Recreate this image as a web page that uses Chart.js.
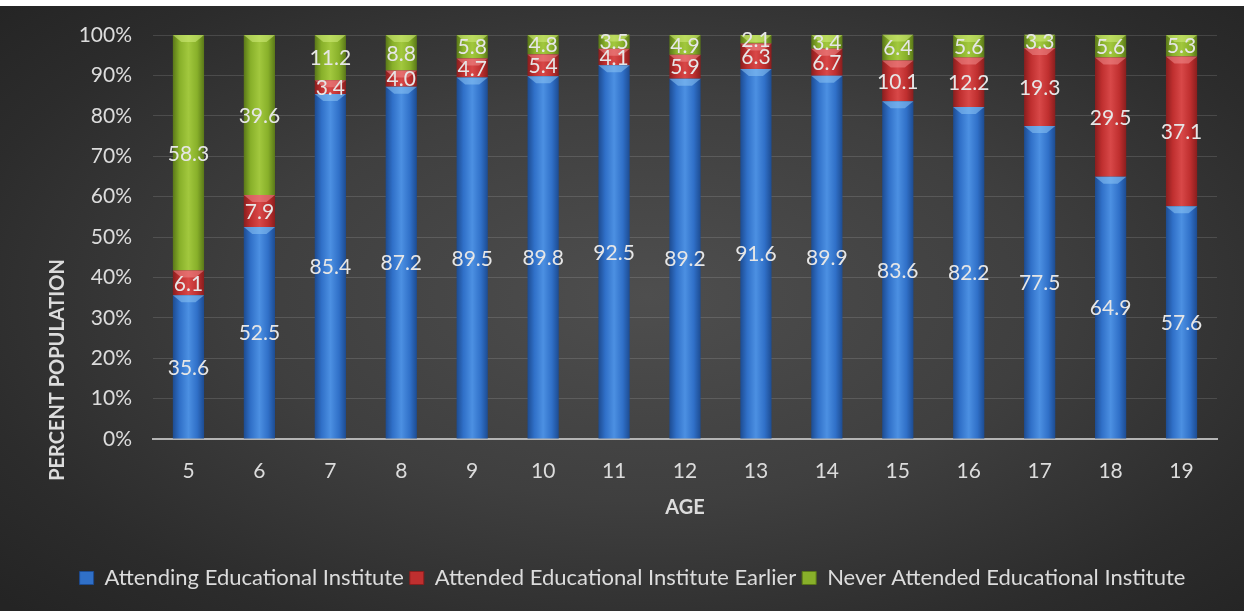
<!DOCTYPE html>
<html>
<head>
<meta charset="utf-8">
<title>Percent population by age</title>
<script src="https://cdn.jsdelivr.net/npm/chart.js@4.4.1/dist/chart.umd.min.js"></script>
<style>
  html, body { margin: 0; padding: 0; background: #fff; }
  #wrap {
    position: absolute; left: 0; top: 6px; width: 1244px; height: 605px;
    background: radial-gradient(ellipse 70% 75% at 52% 48%, #4e4e4e 0%, #3f3f3f 45%, #2c2c2c 80%, #242424 100%);
  }
</style>
</head>
<body>
<div id="wrap"><canvas id="chart" width="1244" height="605"></canvas></div>
<script>
// ages on the x axis
const AGES = ['5', '6', '7', '8', '9', '10', '11', '12', '13', '14', '15', '16', '17', '18', '19'];

// percent of population in each group
const ATTENDING = [35.6, 52.5, 85.4, 87.2, 89.5, 89.8, 92.5, 89.2, 91.6, 89.9, 83.6, 82.2, 77.5, 64.9, 57.6];
const ATTENDED_EARLIER = [6.1, 7.9, 3.4, 4.0, 4.7, 5.4, 4.1, 5.9, 6.3, 6.7, 10.1, 12.2, 19.3, 29.5, 37.1];
const NEVER_ATTENDED = [58.3, 39.6, 11.2, 8.8, 5.8, 4.8, 3.5, 4.9, 2.1, 3.4, 6.4, 5.6, 3.3, 5.6, 5.3];

const Y_TICKS = [0, 10, 20, 30, 40, 50, 60, 70, 80, 90, 100];

const FONT = 'Lato, "Open Sans", sans-serif';
const TEXT = '#dcdcdc';
const BAR_PCT = 0.44;

// dark / mid / light / highlight shades per series
const BLUE = ['#1d4c92', '#3070c8', '#4c90e2', '#8cc4f4'];
const RED = ['#8a1e1e', '#bf2f2f', '#d84848', '#f08c8c'];
const GREEN = ['#5a7818', '#88b02a', '#a2c83e', '#d2ec7c'];

// horizontal "cylinder" shading for each bar
function barFill(shades) {
  return (c) => {
    const chart = c.chart;
    const xs = chart.scales && chart.scales.x;
    if (!xs || !chart.chartArea || c.type !== 'data') return shades[1];
    const cx = xs.getPixelForValue(c.dataIndex);
    const half = xs.width / AGES.length * BAR_PCT / 2;
    const g = chart.ctx.createLinearGradient(cx - half, 0, cx + half, 0);
    g.addColorStop(0, shades[0]);
    g.addColorStop(0.22, shades[1]);
    g.addColorStop(0.5, shades[2]);
    g.addColorStop(0.78, shades[1]);
    g.addColorStop(1, shades[0]);
    return g;
  };
}

function series(label, values, shades) {
  return {
    label: label,
    data: values,
    shades: shades,
    backgroundColor: barFill(shades),
    borderWidth: 0,
    barPercentage: BAR_PCT,
    categoryPercentage: 1
  };
}

// bevel highlight on top of each segment + value labels
const segmentLabels = {
  id: 'segmentLabels',
  afterDatasetsDraw(chart) {
    const ctx = chart.ctx;
    ctx.save();
    chart.data.datasets.forEach((ds, di) => {
      const meta = chart.getDatasetMeta(di);
      meta.data.forEach((el) => {
        const half = el.width / 2;
        const top = el.y;
        ctx.beginPath();
        ctx.moveTo(el.x - half, top);
        ctx.lineTo(el.x + half, top);
        ctx.lineTo(el.x + half * 0.45, top + 7);
        ctx.lineTo(el.x - half * 0.45, top + 7);
        ctx.closePath();
        ctx.fillStyle = ds.shades[3];
        ctx.globalAlpha = 0.55;
        ctx.fill();
        ctx.globalAlpha = 1;
      });
    });
    ctx.font = '21px ' + FONT;
    ctx.fillStyle = '#e6e6e6';
    ctx.textAlign = 'center';
    ctx.textBaseline = 'middle';
    chart.data.datasets.forEach((ds, di) => {
      const meta = chart.getDatasetMeta(di);
      meta.data.forEach((el, i) => {
        const y = (el.y + el.base) / 2;
        ctx.fillText(ds.data[i].toFixed(1), el.x, y + 1);
      });
    });
    ctx.restore();
  }
};

// axis titles; the y title sits lower than the plot centre in the original
const axisTitles = {
  id: 'axisTitles',
  afterLayout(chart) {
    // the legend in the original is centred a bit right of the canvas middle
    if (chart.legend) {
      chart.legend.left += 24;
      chart.legend.right += 24;
    }
  },
  afterDraw(chart) {
    const ctx = chart.ctx;
    const area = chart.chartArea;
    ctx.save();
    ctx.font = 'bold 20px ' + FONT;
    ctx.fillStyle = TEXT;
    ctx.textAlign = 'center';
    ctx.textBaseline = 'middle';
    ctx.fillText('AGE', (area.left + area.right) / 2, 502);
    ctx.translate(58, 364);
    ctx.rotate(-Math.PI / 2);
    ctx.fillText('PERCENT POPULATION', 0, 0);
    ctx.restore();
  }
};

new Chart(document.getElementById('chart'), {
  type: 'bar',
  data: {
    labels: AGES,
    datasets: [
      series('Attending Educational Institute', ATTENDING, BLUE),
      series('Attended Educational Institute Earlier', ATTENDED_EARLIER, RED),
      series('Never Attended Educational Institute', NEVER_ATTENDED, GREEN)
    ]
  },
  plugins: [segmentLabels, axisTitles],
  options: {
    responsive: false,
    animation: false,
    layout: { padding: { left: 0, right: 27, top: 29, bottom: 12 } },
    plugins: {
      tooltip: { enabled: false },
      legend: {
        position: 'bottom',
        labels: {
          color: TEXT,
          font: { family: FONT, size: 22 },
          boxWidth: 14,
          boxHeight: 13,
          padding: 6,
          generateLabels(chart) {
            return chart.data.datasets.map((ds, i) => ({
              text: ds.label,
              fillStyle: ds.shades[1],
              strokeStyle: ds.shades[0],
              lineWidth: 1,
              fontColor: TEXT,
              hidden: false,
              datasetIndex: i
            }));
          }
        }
      }
    },
    scales: {
      x: {
        stacked: true,
        afterFit(axis) { axis.height = 122; },
        grid: { display: false },
        border: { color: '#b4b4b4', width: 2 },
        ticks: { color: TEXT, font: { family: FONT, size: 21 }, padding: 12 }
      },
      y: {
        stacked: true,
        min: 0,
        max: 100,
        afterFit(axis) {
          axis.width = 153;
          axis.paddingTop = 0;
          axis.paddingBottom = 0;
        },
        afterBuildTicks(axis) { axis.ticks = Y_TICKS.map(v => ({ value: v })); },
        grid: { color: 'rgba(255,255,255,0.13)', lineWidth: 1, drawTicks: false },
        border: { display: false },
        ticks: {
          color: TEXT,
          font: { family: FONT, size: 21 },
          padding: 21,
          callback: v => v + '%'
        }
      }
    }
  }
});
</script>
</body>
</html>
